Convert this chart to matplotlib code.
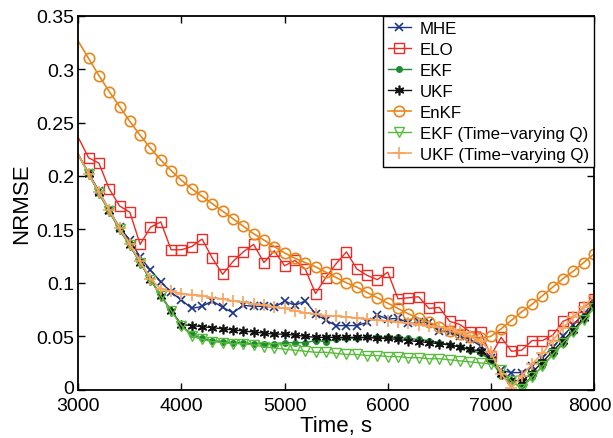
import numpy as np
import matplotlib
matplotlib.use('Agg')
from matplotlib import pyplot as plt
from matplotlib.transforms import ScaledTranslation

# time axis, one sample every 100 s
time_s = np.arange(3000, 8001, 100)

mhe = [0.220, 0.203, 0.186, 0.168, 0.152, 0.140, 0.124, 0.112, 0.101, 0.091,
       0.084, 0.076, 0.078, 0.083, 0.077, 0.072, 0.079, 0.078, 0.078, 0.077,
       0.083, 0.079, 0.083, 0.071, 0.065, 0.060, 0.060, 0.060, 0.063, 0.070,
       0.066, 0.067, 0.062, 0.063, 0.063, 0.055, 0.054, 0.050, 0.047, 0.041,
       0.030, 0.018, 0.016, 0.016, 0.022, 0.030, 0.040, 0.050, 0.061, 0.071,
       0.082]
elo = [0.236, 0.217, 0.212, 0.188, 0.172, 0.166, 0.136, 0.152, 0.157, 0.131,
       0.131, 0.134, 0.141, 0.123, 0.108, 0.120, 0.129, 0.136, 0.119, 0.130,
       0.116, 0.121, 0.113, 0.090, 0.105, 0.118, 0.129, 0.113, 0.107, 0.103,
       0.110, 0.085, 0.086, 0.087, 0.076, 0.077, 0.064, 0.061, 0.054, 0.054,
       0.032, 0.049, 0.036, 0.037, 0.046, 0.046, 0.051, 0.064, 0.068, 0.077,
       0.085]
ekf = [0.220, 0.202, 0.184, 0.167, 0.150, 0.135, 0.119, 0.103, 0.088, 0.074,
       0.060, 0.052, 0.048, 0.046, 0.045, 0.044, 0.044, 0.043, 0.043, 0.043,
       0.044, 0.044, 0.044, 0.046, 0.045, 0.047, 0.048, 0.048, 0.049, 0.049,
       0.049, 0.049, 0.048, 0.047, 0.046, 0.044, 0.042, 0.040, 0.037, 0.034,
       0.028, 0.013, 0.006, 0.004, 0.012, 0.022, 0.033, 0.043, 0.054, 0.066,
       0.079]
ukf = [0.220, 0.202, 0.184, 0.167, 0.150, 0.135, 0.119, 0.103, 0.088, 0.074,
       0.061, 0.060, 0.059, 0.058, 0.057, 0.056, 0.055, 0.054, 0.053, 0.052,
       0.052, 0.051, 0.050, 0.049, 0.049, 0.049, 0.049, 0.049, 0.049, 0.048,
       0.048, 0.047, 0.046, 0.045, 0.044, 0.043, 0.042, 0.040, 0.038, 0.036,
       0.029, 0.015, 0.009, 0.008, 0.016, 0.026, 0.036, 0.046, 0.056, 0.067,
       0.080]
enkf = [0.326, 0.310, 0.294, 0.279, 0.265, 0.251, 0.238, 0.226, 0.215, 0.205,
        0.196, 0.188, 0.181, 0.174, 0.167, 0.160, 0.153, 0.146, 0.140, 0.134,
        0.128, 0.123, 0.119, 0.115, 0.110, 0.105, 0.100, 0.096, 0.091, 0.086,
        0.081, 0.076, 0.071, 0.067, 0.063, 0.059, 0.055, 0.052, 0.049, 0.048,
        0.050, 0.057, 0.065, 0.073, 0.080, 0.088, 0.096, 0.104, 0.111, 0.119,
        0.127]
ekf_tvq = [0.220, 0.202, 0.184, 0.167, 0.150, 0.135, 0.119, 0.103, 0.088, 0.074,
           0.060, 0.050, 0.047, 0.045, 0.044, 0.043, 0.043, 0.042, 0.040, 0.039,
           0.038, 0.037, 0.036, 0.035, 0.035, 0.034, 0.033, 0.033, 0.032, 0.032,
           0.031, 0.031, 0.030, 0.030, 0.029, 0.029, 0.028, 0.027, 0.026, 0.025,
           0.024, 0.018, 0.008, 0.001, 0.012, 0.022, 0.033, 0.044, 0.054, 0.065,
           0.076]
ukf_tvq = [0.220, 0.202, 0.185, 0.168, 0.151, 0.136, 0.120, 0.104, 0.094, 0.092,
           0.090, 0.089, 0.088, 0.086, 0.085, 0.083, 0.082, 0.080, 0.079, 0.077,
           0.076, 0.074, 0.072, 0.071, 0.069, 0.069, 0.068, 0.067, 0.066, 0.065,
           0.064, 0.063, 0.062, 0.061, 0.060, 0.059, 0.057, 0.054, 0.050, 0.046,
           0.035, 0.015, 0.002, 0.013, 0.024, 0.034, 0.046, 0.058, 0.068, 0.077,
           0.088]

labels = ['MHE', 'ELO', 'EKF', 'UKF', 'EnKF',
          'EKF (Time\u2212varying Q)', 'UKF (Time\u2212varying Q)']

plt.rcParams['font.family'] = ['Liberation Sans', 'DejaVu Sans']

fig = plt.figure(figsize=(6.13, 4.39), dpi=100)
ax = fig.add_axes([0.1277, 0.110, 0.8413, 0.852])

mk = slice(1, None)
ax.plot(time_s, mhe, color='#1c3687', marker='x', ms=6, mew=1.2, lw=1, markevery=mk, label=labels[0])
ax.plot(time_s, elo, color='#ee2a24', marker='s', ms=7, mfc='none', mew=1, lw=1, markevery=mk, label=labels[1])
ax.plot(time_s, ekf, color='#1e8a32', marker='o', ms=4, lw=1, markevery=mk, label=labels[2])
ax.plot(time_s, ukf, color='#111111', marker=(6, 2, 0), ms=7, mew=1.2, lw=1, markevery=mk, label=labels[3])
ax.plot(time_s, enkf, color='#e8871e', marker='o', ms=7.5, mfc='none', mew=1.2, lw=1.2, markevery=mk, label=labels[4])
ax.plot(time_s, ekf_tvq, color='#58bb3c', marker='v', ms=7, mfc='none', mew=1, lw=1, markevery=mk, label=labels[5])
ax.plot(time_s, ukf_tvq, color='#f8a45e', marker='+', ms=9, mew=1.2, lw=1.2, markevery=mk, label=labels[6])

ax.set_xlim(3000, 8000)
ax.set_ylim(0, 0.35)
ax.set_xticks(np.arange(3000, 8001, 1000))
yt = np.arange(0, 0.351, 0.05)
ax.set_yticks(yt)
ax.set_yticklabels(['0', '0.05', '0.1', '0.15', '0.2', '0.25', '0.3', '0.35'])
ax.tick_params(direction='in', length=5, width=1, labelsize=14, top=True, right=True)
ax.tick_params(axis='x', pad=5)
ax.tick_params(axis='y', pad=3)
for s in ax.spines.values():
    s.set_linewidth(1.3)
ax.set_xlabel('Time, s', fontsize=16, labelpad=1)
ax.set_ylabel('NRMSE', fontsize=16, labelpad=3)

# nudge the corner tick labels so they stay clear of each other and the edge
last = ax.get_xticklabels()[-1]
last.set_transform(last.get_transform() + ScaledTranslation(-4 / 100, 0, fig.dpi_scale_trans))
zero = ax.get_yticklabels()[0]
zero.set_transform(zero.get_transform() + ScaledTranslation(0, 3 / 100, fig.dpi_scale_trans))

leg = ax.legend(loc='upper right', fontsize=12.2, frameon=True, fancybox=False,
                edgecolor='black', framealpha=1, borderaxespad=0, handlelength=1.4,
                handletextpad=0.5, labelspacing=0.36, borderpad=0.3)
leg.get_frame().set_linewidth(1)

fig.savefig('out.png', dpi=100)
